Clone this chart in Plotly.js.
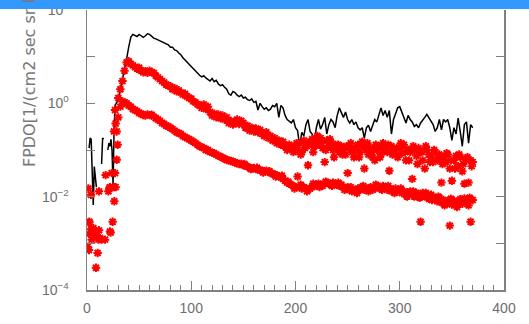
<!DOCTYPE html>
<html><head><meta charset="utf-8">
<script src="https://cdn.plot.ly/plotly-3.0.1.min.js"></script>
<style>html,body{margin:0;padding:0;background:#fff;}#chart{width:529px;height:324px;}</style>
</head><body><div id="chart"></div>
<script>
// Black line series
const blackX = [2,3,4,5,6,7,8,9,10,14,15,16,17,20,21,22,23,24,25,26,27,
  28,30,32,34,36,38,40,42,44,46,
  48,50,52,54,56,58,60,62,64,66,
  68,70,72,74,76,78,80,82,84,86,
  88,90,92,94,96,98,100,102,104,106,
  108,110,112,114,116,118,120,122,124,126,
  128,130,132,134,136,138,140,142,144,146,
  148,150,152,154,156,158,160,162,164,166,
  168,170,172,174,176,178,180,182,184,186,
  188,190,192,194,196,198,200,202,204,206,
  208,210,212,214,216,218,220,222,224,226,
  228,230,232,234,236,238,240,242,244,246,
  248,250,252,254,256,258,260,262,264,266,
  268,270,272,274,276,278,280,282,284,286,
  288,290,292,294,296,298,300,302,304,306,
  308,310,312,314,316,318,320,322,324,326,
  328,330,332,334,336,338,340,342,344,346,
  348,350,352,354,356,358,360,362,364,366,
  368,370];
const blackY = [0.11,0.18,0.17,0.05,0.0066,0.044,0.03,0.016,null,0.05,0.18,0.17,null,0.1,0.14,0.12,0.17,0.1,0.018,0.3,0.92,
  1.0,1.2,2.0,3.2,5.5,9,16,26,30,29,
  27,30,28,26,28,31,30,27,25,24,
  23,22,21,20,19,18,16,16,14,13.5,
  12,11,9.5,8.5,7.5,6.8,6.0,5.4,5.0,4.3,
  4.0,3.7,3.9,3.5,3.3,3.0,3.4,2.9,3.1,2.6,
  2.4,2.5,2.2,2.0,1.6,1.5,1.8,1.7,1.5,1.4,
  1.5,1.3,1.35,1.2,1.15,1.25,1.05,1.1,0.72,1.0,
  0.85,0.75,0.8,0.7,0.75,0.9,0.85,1.0,0.5,0.9,
  0.8,0.55,0.45,0.42,0.38,0.45,0.3,0.26,0.12,0.24,
  0.2,0.35,0.45,0.25,0.22,0.15,0.3,0.45,0.28,0.35,
  0.5,0.22,0.35,0.45,0.4,0.3,0.55,0.8,0.6,0.5,
  0.65,0.45,0.38,0.45,0.35,0.4,0.3,0.27,0.3,0.18,
  0.3,0.34,0.25,0.35,0.45,0.4,0.55,0.8,0.55,0.7,
  0.5,0.7,0.22,0.45,0.6,0.8,0.85,0.65,0.5,0.38,
  0.55,0.45,0.4,0.32,0.35,0.3,0.38,0.45,0.5,0.58,
  0.5,0.42,0.35,0.25,0.3,0.45,0.27,0.45,0.4,0.45,
  0.3,0.16,0.3,0.22,0.48,0.25,0.12,0.35,0.4,0.14,
  0.35,0.3];

// Red series (shared x positions)
const redX = [30,32,34,36,38,40,42,44,46,48,
  50,52,54,56,58,60,62,64,66,68,
  70,72,74,76,78,80,82,84,86,88,
  90,92,94,96,98,100,102,104,106,108,
  110,112,114,116,118,120,122,124,126,128,
  130,132,134,136,138,140,142,144,146,148,
  150,152,154,156,158,160,162,164,166,168,
  170,172,174,176,178,180,182,184,186,188,
  190,192,194,196,198,200,202,204,206,208,
  210,212,214,216,218,220,222,224,226,228,
  230,232,234,236,238,240,242,244,246,248,
  250,252,254,256,258,260,262,264,266,268,
  270,272,274,276,278,280,282,284,286,288,
  290,292,294,296,298,300,302,304,306,308,
  310,312,314,316,318,320,322,324,326,328,
  330,332,334,336,338,340,342,344,346,348,
  350,352,354,356,358,360,362,364,366,368,
  370];
const redUpperY = [1.3,2.0,3.0,5.0,7.5,8.0,7.0,6.5,6.0,5.5,
  5.8,5.0,4.6,4.9,4.5,5.0,4.6,4.5,3.9,3.6,
  3.3,3.0,2.8,2.5,2.4,2.3,2.0,2.1,1.8,1.9,
  1.7,1.55,1.6,1.4,1.3,1.25,1.1,1.05,0.95,0.9,
  0.8,0.95,0.75,0.85,0.65,0.55,0.6,0.5,0.58,0.48,
  0.55,0.45,0.5,0.38,0.42,0.35,0.4,0.45,0.36,0.42,
  0.38,0.3,0.33,0.26,0.3,0.25,0.29,0.24,0.27,0.22,
  0.2,0.24,0.18,0.2,0.16,0.18,0.14,0.16,0.13,0.15,
  0.12,0.1,0.13,0.11,0.09,0.12,0.1,0.14,0.09,0.16,
  0.12,0.047,0.15,0.17,0.12,0.16,0.13,0.18,0.11,0.055,
  0.16,0.12,0.14,0.1,0.13,0.11,0.09,0.12,0.1,0.08,
  0.032,0.11,0.09,0.07,0.1,0.13,0.09,0.15,0.04,0.1,
  0.08,0.11,0.07,0.06,0.1,0.12,0.08,0.14,0.11,0.09,
  0.036,0.12,0.1,0.08,0.07,0.11,0.085,0.13,0.06,0.1,
  0.09,0.024,0.1,0.075,0.11,0.09,0.06,0.04,0.1,0.08,
  0.07,0.055,0.09,0.06,0.08,0.02,0.07,0.055,0.08,0.04,
  0.022,0.06,0.075,0.045,0.07,0.035,0.019,0.065,0.02,0.06,
  0.055];
const redLowerY = [0.5,0.85,1.1,1.05,1.0,0.9,0.85,0.75,0.72,0.68,
  0.62,0.6,0.56,0.55,0.58,0.56,0.57,0.52,0.48,0.45,
  0.42,0.38,0.36,0.33,0.32,0.3,0.28,0.26,0.24,0.23,
  0.22,0.2,0.19,0.18,0.17,0.16,0.15,0.14,0.13,0.12,
  0.115,0.11,0.1,0.1,0.092,0.088,0.085,0.08,0.075,0.072,
  0.068,0.065,0.061,0.06,0.058,0.056,0.054,0.052,0.05,0.051,
  0.047,0.046,0.044,0.042,0.04,0.041,0.039,0.038,0.037,0.036,
  0.035,0.036,0.034,0.032,0.031,0.03,0.029,0.027,0.026,0.024,
  0.022,0.02,0.019,0.018,0.017,0.016,0.027,0.016,0.015,0.016,
  0.015,0.014,0.015,0.016,0.017,0.018,0.019,0.018,0.017,0.019,
  0.02,0.019,0.018,0.02,0.019,0.018,0.017,0.018,0.016,0.015,
  0.016,0.014,0.013,0.014,0.013,0.015,0.014,0.016,0.014,0.015,
  0.013,0.016,0.014,0.015,0.017,0.016,0.015,0.017,0.016,0.014,
  0.015,0.013,0.014,0.015,0.013,0.014,0.012,0.013,0.011,0.012,
  0.013,0.011,0.01,0.012,0.011,0.0029,0.012,0.01,0.011,0.009,
  0.011,0.01,0.009,0.008,0.0095,0.0075,0.0085,0.007,0.008,0.0024,
  0.0068,0.0082,0.0065,0.0075,0.0088,0.007,0.0092,0.0078,0.0065,0.0029,
  0.0085];

// Additional in-between samples of the upper band (odd x)
const redUpperExtraX = [201,205,209,213,217,221,225,229,233,237,241,245,249,253,257,261,265,269,273,277,281,285,289,293,297,301,305,309,313,317,321,325,329,333,337,341,345,349,353,357,361,365,369];
const redUpperExtraY = [0.14,0.08,0.11,0.13,0.09,0.2,0.14,0.1,0.17,0.07,0.13,0.08,0.12,0.14,0.11,0.07,0.12,0.14,0.09,0.13,0.07,0.1,0.13,0.08,0.11,0.14,0.09,0.06,0.12,0.05,0.09,0.12,0.055,0.1,0.07,0.05,0.085,0.06,0.04,0.08,0.05,0.07,0.045];

// Additional in-between samples of the lower band
const redLowerExtraX = [151,157,163,169,175,181,187,193,199,205,211,217,223,229,235,241,247,253,259,265,271,277,283,289,295,301,307,313,319,325,331,337,343,349,355,361,367];
const redLowerExtraY = [0.05,0.039,0.042,0.033,0.035,0.027,0.028,0.021,0.015,0.018,0.013,0.019,0.016,0.021,0.017,0.02,0.014,0.016,0.012,0.017,0.015,0.018,0.014,0.017,0.012,0.015,0.01,0.013,0.0095,0.012,0.0085,0.01,0.0065,0.009,0.006,0.0082,0.0095];

// Early scattered red points
const redEarlyX = [0.6,1.3,1.9,1.9,2.2,2.2,3.8,3.8,4.5,6.1,7.7,8.6,10.2,10.9,11.5,11.5,12.5,14,17.3,17.9,20.5,21.4,22,22,22.7,23.7,24.6,25.9,26,26.2,26.9,26.9,27.5,27.5,28.5,28.5,29.4];
const redEarlyY = [0.00085,0.015,0.0016,0.00072,0.0029,0.0028,0.011,0.002,0.0012,0.0021,0.0015,0.0003,0.00062,0.0012,0.0019,0.013,0.0013,0.0012,0.0012,0.029,0.013,0.015,0.016,0.0018,0.0017,0.032,0.0029,0.25,0.016,0.008,0.72,0.032,0.016,0.37,0.062,0.25,0.13];

const yTickVals = [1e-4,1e-3,1e-2,1e-1,1,10,100];
const yTickText = ['10<sup>\u22124</sup>','','10<sup>\u22122</sup>','','10<sup>0</sup>','','10<sup>2</sup>'];
const xTickVals = [0,100,200,300,400];
const xTickText = ['0','100','200','300','400'];
const yTitle = 'FPDO[1/(cm2 sec sr keV)]';

const redMarker = {symbol:'asterisk-open', size:7, color:'#ff0000', line:{color:'#ff0000', width:2}};
const traces = [
  {x:blackX, y:blackY, type:'scatter', mode:'lines', line:{color:'#000000', width:1.5}, connectgaps:false},
  {x:redX, y:redUpperY, type:'scatter', mode:'markers', marker:redMarker},
  {x:redUpperExtraX, y:redUpperExtraY, type:'scatter', mode:'markers', marker:redMarker},
  {x:redX, y:redLowerY, type:'scatter', mode:'markers', marker:redMarker},
  {x:redLowerExtraX, y:redLowerExtraY, type:'scatter', mode:'markers', marker:redMarker},
  {x:redEarlyX, y:redEarlyY, type:'scatter', mode:'markers', marker:redMarker}
];
const axisCol = '#808080';
const layout = {
  width:529, height:324,
  margin:{l:87, r:25, t:10, b:34, pad:0},
  paper_bgcolor:'#ffffff', plot_bgcolor:'#ffffff',
  showlegend:false,
  font:{family:'Liberation Sans, Arial, sans-serif', size:14, color:'#6e6e6e'},
  xaxis:{range:[0,400], showgrid:false, zeroline:false, showline:true, linecolor:axisCol, linewidth:1.5,
    ticks:'inside', ticklen:9, tickwidth:1, tickcolor:axisCol, tickmode:'array', tickvals:xTickVals, ticktext:xTickText,
    minor:{dtick:10, ticks:'inside', ticklen:5, tickwidth:1, tickcolor:axisCol, showgrid:false},
    ticklabelstandoff:5},
  yaxis:{type:'log', range:[-4,2], showgrid:false, zeroline:false, showline:true, mirror:'ticks', linecolor:axisCol, linewidth:1.5,
    ticks:'inside', ticklen:8, tickwidth:1, tickcolor:axisCol, tickmode:'array', tickvals:yTickVals, ticktext:yTickText,
    ticklabelstandoff:14},
  annotations:[{text:yTitle, textangle:-90, xref:'paper', yref:'paper', x:-0.139, y:0.432, xanchor:'center', yanchor:'bottom',
    showarrow:false, font:{family:'DejaVu Sans, sans-serif', size:16, color:'#787878'}}],
  shapes:[{type:'rect', xref:'paper', yref:'paper', x0:-0.22, x1:1.08, y0:1.0036, y1:1.05, fillcolor:'#3399ff', line:{width:0}, layer:'above'}]
};
Plotly.newPlot('chart', traces, layout, {displayModeBar:false, staticPlot:true});
</script></body></html>
